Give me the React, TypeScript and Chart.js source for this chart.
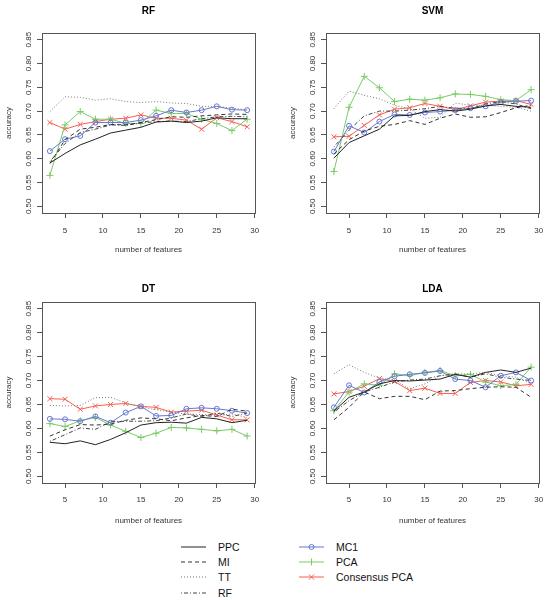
import React, { useEffect, useRef } from "react";
import { Chart, registerables } from "chart.js";

Chart.register(...registerables);

// ---------------- data ----------------
const featureCounts = [3, 5, 7, 9, 11, 13, 15, 17, 19, 21, 23, 25, 27, 29];
const xTickStep = 5;
const yTickStep = 0.05;
const xLabel = "number of features";
const yLabel = "accuracy";
const seriesNames = ["PPC", "MI", "TT", "RF", "MC1", "PCA", "Consensus PCA"];
const panelTitles = ["RF", "SVM", "DT", "LDA"];

const rfPPC = [0.591, 0.611, 0.629, 0.641, 0.654, 0.66, 0.666, 0.677, 0.679, 0.676, 0.679, 0.686, 0.684, 0.684];
const rfMI = [0.59, 0.64, 0.662, 0.666, 0.672, 0.671, 0.676, 0.682, 0.688, 0.687, 0.69, 0.692, 0.694, 0.693];
const rfTT = [0.699, 0.73, 0.729, 0.723, 0.726, 0.72, 0.718, 0.72, 0.717, 0.716, 0.71, 0.71, 0.706, 0.703];
const rfRF = [0.594, 0.632, 0.655, 0.662, 0.671, 0.67, 0.675, 0.678, 0.679, 0.678, 0.684, 0.688, 0.689, 0.688];
const rfMC1 = [0.616, 0.641, 0.648, 0.676, 0.676, 0.676, 0.681, 0.69, 0.702, 0.697, 0.702, 0.71, 0.703, 0.702];
const rfPCA = [0.565, 0.671, 0.699, 0.683, 0.683, 0.674, 0.674, 0.702, 0.695, 0.695, 0.683, 0.674, 0.659, 0.683];
const rfCPCA = [0.676, 0.662, 0.672, 0.678, 0.683, 0.685, 0.692, 0.685, 0.685, 0.681, 0.662, 0.686, 0.678, 0.667];

const svmPPC = [0.601, 0.634, 0.648, 0.662, 0.69, 0.691, 0.699, 0.703, 0.7, 0.704, 0.711, 0.714, 0.71, 0.708];
const svmMI = [0.61, 0.64, 0.658, 0.668, 0.672, 0.68, 0.672, 0.685, 0.694, 0.687, 0.688, 0.697, 0.707, 0.712];
const svmTT = [0.705, 0.742, 0.733, 0.726, 0.712, 0.705, 0.685, 0.687, 0.717, 0.712, 0.712, 0.71, 0.708, 0.7];
const svmRF = [0.625, 0.66, 0.69, 0.7, 0.7, 0.702, 0.705, 0.71, 0.706, 0.705, 0.715, 0.72, 0.715, 0.705];
const svmMC1 = [0.615, 0.669, 0.655, 0.678, 0.693, 0.692, 0.697, 0.699, 0.702, 0.706, 0.71, 0.719, 0.721, 0.722];
const svmPCA = [0.573, 0.708, 0.773, 0.749, 0.72, 0.725, 0.723, 0.728, 0.736, 0.735, 0.731, 0.724, 0.722, 0.745];
const svmCPCA = [0.646, 0.647, 0.67, 0.692, 0.704, 0.707, 0.716, 0.71, 0.703, 0.711, 0.719, 0.721, 0.722, 0.714];

const dtPPC = [0.571, 0.568, 0.574, 0.566, 0.577, 0.591, 0.607, 0.612, 0.613, 0.611, 0.623, 0.62, 0.612, 0.617];
const dtMI = [0.584, 0.597, 0.608, 0.607, 0.609, 0.617, 0.622, 0.62, 0.616, 0.622, 0.627, 0.625, 0.64, 0.636];
const dtTT = [0.648, 0.647, 0.648, 0.664, 0.665, 0.653, 0.645, 0.639, 0.634, 0.63, 0.629, 0.627, 0.63, 0.623];
const dtRF = [0.573, 0.587, 0.601, 0.598, 0.614, 0.615, 0.615, 0.616, 0.622, 0.63, 0.625, 0.632, 0.625, 0.632];
const dtMC1 = [0.62, 0.619, 0.615, 0.625, 0.612, 0.633, 0.646, 0.626, 0.627, 0.641, 0.643, 0.641, 0.637, 0.632];
const dtPCA = [0.61, 0.604, 0.616, 0.623, 0.607, 0.594, 0.581, 0.59, 0.602, 0.601, 0.598, 0.595, 0.598, 0.584];
const dtCPCA = [0.662, 0.661, 0.64, 0.647, 0.65, 0.652, 0.646, 0.644, 0.634, 0.636, 0.638, 0.628, 0.618, 0.618];

const ldaPPC = [0.636, 0.665, 0.676, 0.693, 0.7, 0.699, 0.701, 0.703, 0.713, 0.707, 0.717, 0.722, 0.717, 0.726];
const ldaMI = [0.618, 0.644, 0.676, 0.662, 0.667, 0.667, 0.66, 0.678, 0.679, 0.683, 0.686, 0.687, 0.686, 0.665];
const ldaTT = [0.714, 0.733, 0.717, 0.705, 0.701, 0.683, 0.693, 0.71, 0.714, 0.714, 0.717, 0.71, 0.707, 0.693];
const ldaRF = [0.634, 0.658, 0.676, 0.686, 0.697, 0.701, 0.703, 0.71, 0.714, 0.707, 0.714, 0.707, 0.703, 0.7];
const ldaMC1 = [0.644, 0.69, 0.675, 0.697, 0.709, 0.713, 0.716, 0.72, 0.703, 0.7, 0.686, 0.71, 0.717, 0.7];
const ldaPCA = [0.637, 0.676, 0.693, 0.69, 0.714, 0.71, 0.717, 0.721, 0.71, 0.713, 0.697, 0.689, 0.692, 0.728];
const ldaCPCA = [0.672, 0.677, 0.688, 0.704, 0.698, 0.679, 0.684, 0.673, 0.673, 0.696, 0.7, 0.697, 0.689, 0.692];

const panelValues = [
  [rfPPC, rfMI, rfTT, rfRF, rfMC1, rfPCA, rfCPCA],
  [svmPPC, svmMI, svmTT, svmRF, svmMC1, svmPCA, svmCPCA],
  [dtPPC, dtMI, dtTT, dtRF, dtMC1, dtPCA, dtCPCA],
  [ldaPPC, ldaMI, ldaTT, ldaRF, ldaMC1, ldaPCA, ldaCPCA],
];

// ---------------- styles ----------------
const FONT = "'Liberation Sans', Arial, Helvetica, sans-serif";
const AXIS_COLOR = "#555";
const TEXT_COLOR = "#333";

type SeriesStyle = { color: string; dash: number[]; point: string | false; radius: number };
const seriesStyles: SeriesStyle[] = [
  { color: "#222222", dash: [], point: false, radius: 0 },
  { color: "#333333", dash: [4, 3], point: false, radius: 0 },
  { color: "#777777", dash: [1, 2], point: false, radius: 0 },
  { color: "#444444", dash: [1, 2, 4, 2], point: false, radius: 0 },
  { color: "#6577d0", dash: [], point: "circle", radius: 2.5 },
  { color: "#7acb66", dash: [], point: "cross", radius: 3.5 },
  { color: "#f4604f", dash: [], point: "crossRot", radius: 3.5 },
];

// layout of the four panels (canvas placement + plot frame)
type PanelLayout = {
  left: number; top: number; width: number; height: number;
  plotLeft: number; plotRight: number; plotBottom: number;
  titlePadTop: number; titlePadBottom: number; xTickPad: number;
};
const panelLayouts: PanelLayout[] = [
  { left: 0, top: 0, width: 270, height: 262, plotLeft: 42, plotRight: 255, plotBottom: 213, titlePadTop: 5.5, titlePadBottom: 15.5, xTickPad: 8 },
  { left: 284, top: 0, width: 265, height: 262, plotLeft: 42, plotRight: 255, plotBottom: 213, titlePadTop: 5.5, titlePadBottom: 15.5, xTickPad: 8 },
  { left: 0, top: 262, width: 270, height: 271, plotLeft: 42, plotRight: 255, plotBottom: 221, titlePadTop: 21, titlePadBottom: 7, xTickPad: 7 },
  { left: 284, top: 262, width: 265, height: 271, plotLeft: 42, plotRight: 255, plotBottom: 221, titlePadTop: 21, titlePadBottom: 7, xTickPad: 7 },
];

const boxPlugin = {
  id: "plotBox",
  afterDraw(chart: any) {
    const { ctx, chartArea } = chart;
    const l = Math.round(chartArea.left) + 0.5;
    const t = Math.round(chartArea.top) + 0.5;
    const r = Math.round(chartArea.right) + 0.5;
    const b = Math.round(chartArea.bottom) + 0.5;
    ctx.save();
    ctx.strokeStyle = AXIS_COLOR;
    ctx.lineWidth = 1;
    ctx.strokeRect(l, t, r - l, b - t);
    ctx.restore();
  },
};

function Panel({ index }: { index: number }) {
  const ref = useRef<HTMLCanvasElement | null>(null);
  const lay = panelLayouts[index];
  useEffect(() => {
    if (!ref.current) return;
    const values = panelValues[index];
    const axisFont = { family: FONT, size: 8 };
    const chart = new Chart(ref.current, {
      type: "line",
      data: {
        datasets: seriesNames.map((name, i) => {
          const st = seriesStyles[i];
          return {
            label: name,
            data: featureCounts.map((x, j) => ({ x, y: values[i][j] })),
            borderColor: st.color,
            borderDash: st.dash,
            borderWidth: 1,
            pointStyle: st.point === false ? "circle" : st.point,
            pointRadius: st.radius,
            pointBorderColor: st.color,
            pointBackgroundColor: "rgba(0,0,0,0)",
            pointBorderWidth: 1,
            fill: false,
            tension: 0,
          } as any;
        }),
      },
      options: {
        animation: false,
        responsive: false,
        maintainAspectRatio: false,
        events: [],
        layout: { padding: { left: 0, top: 0, right: lay.width - lay.plotRight, bottom: 0 } },
        plugins: {
          legend: { display: false },
          tooltip: { enabled: false },
          title: {
            display: true,
            text: panelTitles[index],
            fullSize: false,
            color: "#000",
            font: { family: FONT, size: 10, weight: "bold", lineHeight: 1.2 },
            padding: { top: lay.titlePadTop, bottom: lay.titlePadBottom },
          },
        },
        scales: {
          x: {
            type: "linear",
            min: 1.96,
            max: 30.04,
            ticks: {
              stepSize: xTickStep,
              includeBounds: false,
              autoSkip: false,
              maxRotation: 0,
              padding: lay.xTickPad,
              color: TEXT_COLOR,
              font: axisFont,
              callback: (v: any) => String(v),
            },
            grid: { drawOnChartArea: false, tickLength: 5, color: AXIS_COLOR },
            border: { display: false },
            title: {
              display: true,
              text: xLabel,
              color: TEXT_COLOR,
              font: axisFont,
              padding: { top: 0, bottom: 7.2 },
            },
            afterFit: (s: any) => {
              s.height = lay.height - lay.plotBottom;
              s.paddingLeft = 0;
              s.paddingRight = 0;
            },
          },
          y: {
            type: "linear",
            min: 0.486,
            max: 0.864,
            ticks: {
              stepSize: yTickStep,
              includeBounds: false,
              autoSkip: false,
              minRotation: 90,
              maxRotation: 90,
              crossAlign: "center",
              padding: 0,
              color: TEXT_COLOR,
              font: axisFont,
              callback: (v: any) => Number(v).toFixed(2),
            },
            grid: { drawOnChartArea: false, tickLength: 5, color: AXIS_COLOR },
            border: { display: false },
            title: {
              display: true,
              text: yLabel,
              color: TEXT_COLOR,
              font: axisFont,
              padding: { top: 3.5, bottom: 0 },
            },
            afterFit: (s: any) => {
              s.width = lay.plotLeft;
              s.paddingTop = 0;
              s.paddingBottom = 0;
            },
          },
        },
      } as any,
      plugins: [boxPlugin],
    });
    return () => chart.destroy();
  }, [index]);
  return (
    <canvas
      ref={ref}
      width={lay.width}
      height={lay.height}
      style={{ position: "absolute", left: lay.left, top: lay.top, width: lay.width, height: lay.height }}
    />
  );
}

function LegendSymbol({ i }: { i: number }) {
  const st = seriesStyles[i];
  const w = 25;
  const h = 12;
  const cy = h / 2;
  const cx = w / 2;
  let marker: React.ReactNode = null;
  if (st.point === "circle") {
    marker = <circle cx={cx} cy={cy} r={st.radius} fill="none" stroke={st.color} strokeWidth={1} />;
  } else if (st.point === "cross") {
    marker = (
      <path d={`M${cx} ${cy - st.radius} L${cx} ${cy + st.radius}`} stroke={st.color} strokeWidth={1} />
    );
  } else if (st.point === "crossRot") {
    const d = st.radius * 0.75;
    marker = (
      <path
        d={`M${cx - d} ${cy - d} L${cx + d} ${cy + d} M${cx - d} ${cy + d} L${cx + d} ${cy - d}`}
        stroke={st.color}
        strokeWidth={1}
      />
    );
  }
  return (
    <svg width={w} height={h} style={{ display: "block" }}>
      <line x1={0} y1={cy} x2={w} y2={cy} stroke={st.color} strokeWidth={1} strokeDasharray={st.dash.length ? st.dash.join(" ") : undefined} />
      {marker}
    </svg>
  );
}

const legendColumns = [
  { symbolLeft: 181, textLeft: 218, items: [0, 1, 2, 3] },
  { symbolLeft: 299, textLeft: 336, items: [4, 5, 6] },
];
const legendRowCenters = [547, 562, 577, 593];

function Legend() {
  return (
    <>
      {legendColumns.map((col, ci) =>
        col.items.map((si, ri) => (
          <React.Fragment key={`${ci}-${ri}`}>
            <div style={{ position: "absolute", left: col.symbolLeft, top: legendRowCenters[ri] - 6 }}>
              <LegendSymbol i={si} />
            </div>
            <div
              style={{
                position: "absolute",
                left: col.textLeft,
                top: legendRowCenters[ri] - 7,
                height: 14,
                lineHeight: "14px",
                fontFamily: FONT,
                fontSize: 10.5,
                color: "#111",
                whiteSpace: "nowrap",
              }}
            >
              {seriesNames[si]}
            </div>
          </React.Fragment>
        ))
      )}
    </>
  );
}

export default function App() {
  return (
    <div style={{ position: "absolute", left: 0, top: 0, width: 549, height: 600, background: "#fff", overflow: "hidden" }}>
      {panelLayouts.map((_, i) => (
        <Panel key={i} index={i} />
      ))}
      <Legend />
    </div>
  );
}
